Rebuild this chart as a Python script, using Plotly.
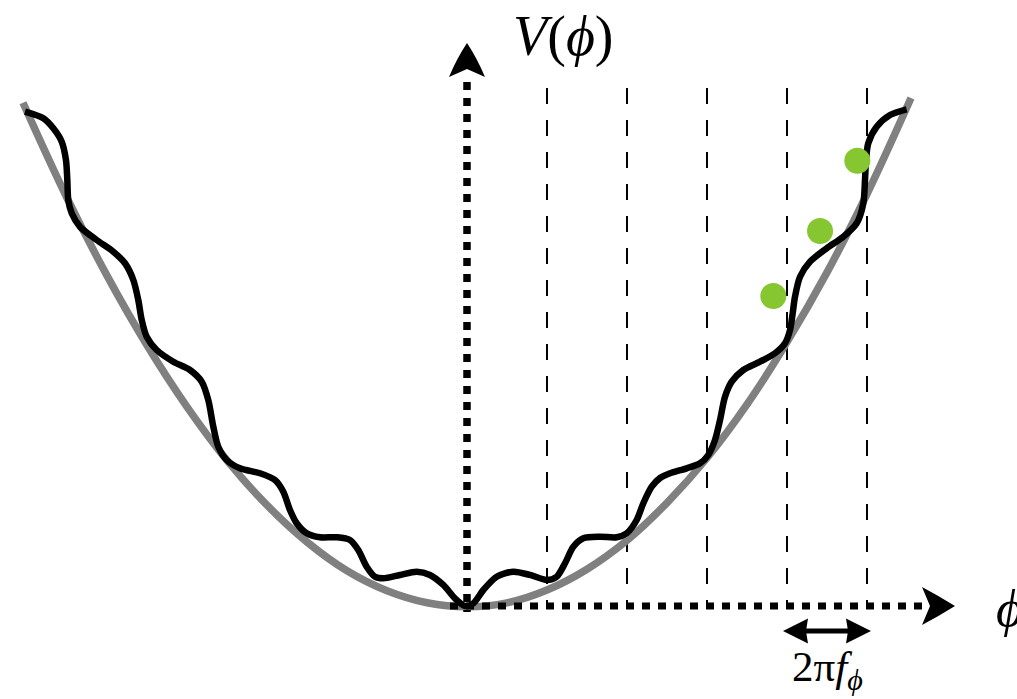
import plotly.graph_objects as go

# ---- data (phi in units of 2*pi*f, V in same display units) ----
phi_gray = [-5.55, -5.0, -4.5, -4.0, -3.5, -3.0, -2.5, -2.0, -1.5, -1.0, -0.5, 0.0,
            0.5, 1.0, 1.5, 2.0, 2.5, 3.0, 3.5, 4.0, 4.5, 5.0, 5.55]
V_gray = [6.29, 5.10, 4.13, 3.26, 2.49, 1.82, 1.26, 0.80, 0.44, 0.19, 0.04, -0.01,
          0.04, 0.20, 0.46, 0.82, 1.29, 1.85, 2.52, 3.30, 4.17, 5.15, 6.35]

phi_black = [-5.525, -5.296, -5.171, -5.066, -5.013, -4.996, -4.984, -4.941, -4.838, -4.629,
             -4.421, -4.275, -4.171, -4.109, -4.066, -4.004, -3.879, -3.671, -3.463, -3.316,
             -3.234, -3.171, -3.109, -3.004, -2.838, -2.588, -2.400, -2.296, -2.213, -2.129,
             -2.004, -1.838, -1.629, -1.463, -1.359, -1.254, -1.150, -1.046, -0.838, -0.629,
             -0.463, -0.296, -0.150, -0.025, 0.079, 0.204, 0.371, 0.579, 0.788, 0.996,
             1.121, 1.225, 1.329, 1.454, 1.663, 1.871, 1.996, 2.121, 2.204, 2.309,
             2.413, 2.538, 2.746, 2.913, 3.016, 3.100, 3.163, 3.225, 3.309, 3.454,
             3.663, 3.850, 3.975, 4.038, 4.071, 4.100, 4.163, 4.288, 4.496, 4.704,
             4.871, 4.954, 4.975, 4.988, 5.016, 5.121, 5.288, 5.496]
V_black = [6.179, 6.096, 5.971, 5.804, 5.575, 5.325, 5.075, 4.909, 4.741, 4.575,
           4.429, 4.284, 4.075, 3.825, 3.575, 3.366, 3.200, 3.054, 2.950, 2.804,
           2.575, 2.241, 1.991, 1.825, 1.721, 1.659, 1.575, 1.429, 1.200, 1.034,
           0.909, 0.859, 0.859, 0.825, 0.700, 0.491, 0.366, 0.346, 0.388, 0.429,
           0.388, 0.263, 0.096, 0.000, 0.034, 0.200, 0.366, 0.429, 0.388, 0.325,
           0.366, 0.534, 0.741, 0.846, 0.866, 0.859, 0.909, 1.075, 1.284, 1.491,
           1.600, 1.659, 1.721, 1.784, 1.888, 2.075, 2.325, 2.616, 2.804, 2.950,
           3.054, 3.159, 3.284, 3.450, 3.659, 3.866, 4.116, 4.304, 4.471, 4.616,
           4.784, 5.034, 5.325, 5.575, 5.784, 5.991, 6.138, 6.209]

dash_phi = [1, 2, 3, 4, 5]
dot_phi = [3.829, 4.413, 4.879]
dot_V = [3.875, 4.688, 5.566]

label_V = "<i>V</i>(<i>ϕ</i>)"
label_phi = "<i>ϕ</i>"
label_period = "2π<i>f</i><sub><i>ϕ</i></sub>"

# ---- layout geometry ----
W, H = 1017, 699
PX = 80.0  # pixels per data unit
x_range = [-467 / PX, (W - 467) / PX]
y_range = [(606 - H) / PX, 606 / PX]


def p(v):
    return v / PX


FONT = "Liberation Serif, DejaVu Serif, serif"

fig = go.Figure()

fig.add_trace(go.Scatter(x=phi_gray, y=V_gray, mode="lines",
                         line=dict(color="#808080", width=7.5, shape="spline", smoothing=1.0),
                         hoverinfo="skip", showlegend=False))
fig.add_trace(go.Scatter(x=phi_black, y=V_black, mode="lines",
                         line=dict(color="black", width=6.5, shape="spline", smoothing=0.8),
                         hoverinfo="skip", showlegend=False))
fig.add_trace(go.Scatter(x=dot_phi, y=dot_V, mode="markers",
                         marker=dict(color="#86c631", size=26, line=dict(width=0)),
                         hoverinfo="skip", showlegend=False))

shapes = []
# dashed verticals
dash_top = p(606 - 88)
for xv in dash_phi:
    shapes.append(dict(type="line", xref="x", yref="y", x0=xv, x1=xv, y0=dash_top, y1=0,
                       line=dict(color="black", width=2, dash="16px,16px"), layer="below"))
# dotted axes
v_top = p(606 - 82)
shapes.append(dict(type="line", xref="x", yref="y", x0=0, x1=0, y0=v_top, y1=p(-6),
                   line=dict(color="black", width=7.5, dash="8px,8px")))
h_end = p(924 - 467)
shapes.append(dict(type="line", xref="x", yref="y", x0=p(-17), x1=h_end, y0=0, y1=0,
                   line=dict(color="black", width=7, dash="8px,8px")))

# arrowheads (slightly concave back)
tipV = p(606 - 43)
backV = p(606 - 77)
notchV = p(606 - 69)
shapes.append(dict(type="path", xref="x", yref="y",
                   path=f"M 0,{tipV} Q {p(10)},{p(606-58)} {p(18)},{backV} L 0,{notchV} "
                        f"L {p(-18)},{backV} Q {p(-10)},{p(606-58)} 0,{tipV} Z",
                   fillcolor="black", line=dict(width=0)))
tipH = p(955 - 467)
backH = p(922 - 467)
notchH = p(930 - 467)
shapes.append(dict(type="path", xref="x", yref="y",
                   path=f"M {tipH},0 Q {p(939-467)},{p(-10)} {backH},{p(-19)} L {notchH},0 "
                        f"L {backH},{p(19)} Q {p(939-467)},{p(10)} {tipH},0 Z",
                   fillcolor="black", line=dict(width=0)))

# double arrow for period
ya = p(606 - 631)
xl = dash_phi[3] - p(4)
xr = dash_phi[4] + p(4)
shapes.append(dict(type="line", xref="x", yref="y", x0=xl + p(20), x1=xr - p(20), y0=ya, y1=ya,
                   line=dict(color="black", width=5)))
shapes.append(dict(type="path", xref="x", yref="y",
                   path=f"M {xl},{ya} L {xl+p(25)},{ya+p(12.5)} L {xl+p(23)},{ya} "
                        f"L {xl+p(25)},{ya-p(12.5)} Z",
                   fillcolor="black", line=dict(width=0)))
shapes.append(dict(type="path", xref="x", yref="y",
                   path=f"M {xr},{ya} L {xr-p(25)},{ya+p(12.5)} L {xr-p(23)},{ya} "
                        f"L {xr-p(25)},{ya-p(12.5)} Z",
                   fillcolor="black", line=dict(width=0)))

annotations = [
    dict(x=p(563 - 467), y=p(606 - 36), xref="x", yref="y", text=label_V, showarrow=False,
         xanchor="center", yanchor="middle", font=dict(family=FONT, size=56, color="black")),
    dict(x=p(994 - 467), y=p(606 - 608), xref="x", yref="y", text=label_phi, showarrow=False,
         xanchor="left", yanchor="middle", font=dict(family=FONT, size=52, color="black")),
    dict(x=(xl + xr) / 2, y=p(606 - 670), xref="x", yref="y", text=label_period,
         showarrow=False, xanchor="center", yanchor="middle",
         font=dict(family=FONT, size=43, color="black")),
]

fig.update_layout(
    width=W, height=H, margin=dict(l=0, r=0, t=0, b=0),
    paper_bgcolor="white", plot_bgcolor="white",
    xaxis=dict(range=x_range, visible=False, fixedrange=True),
    yaxis=dict(range=y_range, visible=False, fixedrange=True),
    shapes=shapes, annotations=annotations, showlegend=False,
)

fig.write_html("out.html", config={"displayModeBar": False},
               post_script="document.body.style.margin='0';"
                           "document.body.style.overflow='hidden';"
                           "document.documentElement.style.overflow='hidden';")
